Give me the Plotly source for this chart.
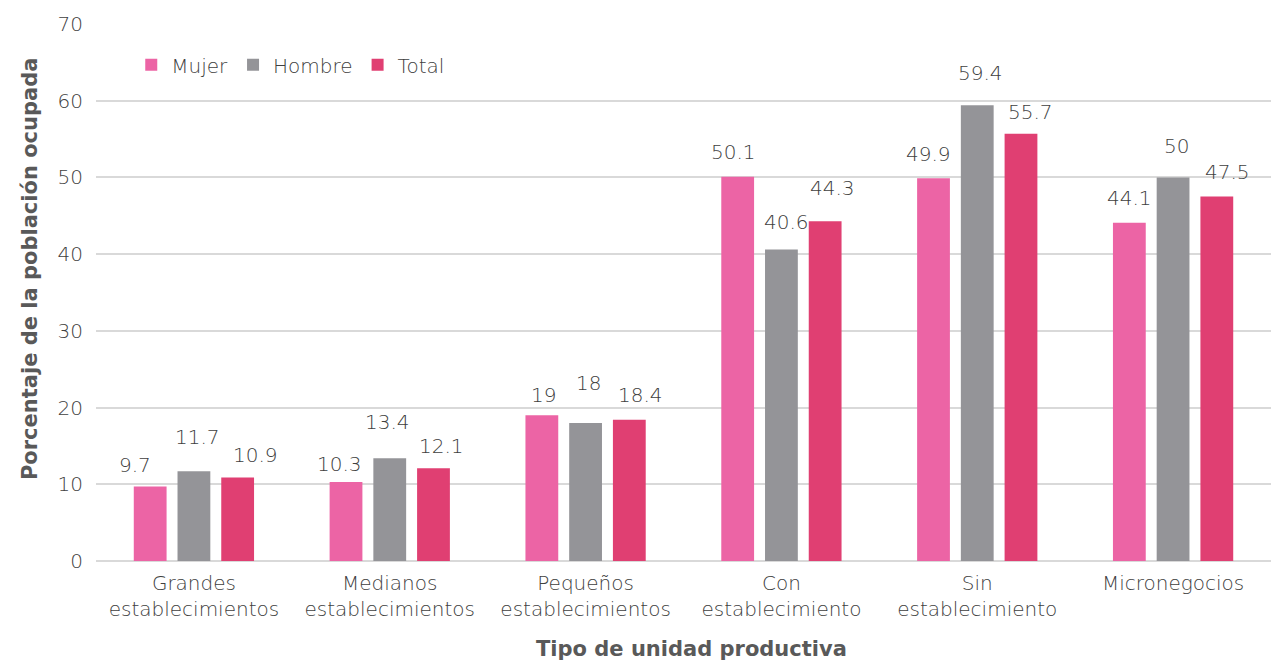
import plotly.graph_objects as go

# Datos: porcentaje de la población ocupada por tipo de unidad productiva
categorias = [
    "Grandes<br>establecimientos",
    "Medianos<br>establecimientos",
    "Pequeños<br>establecimientos",
    "Con<br>establecimiento",
    "Sin<br>establecimiento",
    "Micronegocios",
]
mujer = [9.7, 10.3, 19, 50.1, 49.9, 44.1]
hombre = [11.7, 13.4, 18, 40.6, 59.4, 50]
total = [10.9, 12.1, 18.4, 44.3, 55.7, 47.5]

series = [
    ("Mujer", mujer, "#EC64A5"),
    ("Hombre", hombre, "#949498"),
    ("Total", total, "#E03F72"),
]

# Ajuste manual de cada etiqueta de valor (px: desplazamiento horizontal,
# altura del centro de la etiqueta sobre el extremo de la barra)
desp_x = {
    "Mujer": [-15, -7, 2, -4, -5, 0],
    "Hombre": [4, -2, 3, 5, 3, 3],
    "Total": [18, 8, 11, 7, 10, 11],
}
altura = {
    "Mujer": [22, 18, 20, 25, 24, 25],
    "Hombre": [34, 36, 40, 28, 32, 31],
    "Total": [22, 22, 25, 33, 22, 25],
}

FONT = "DejaVu Sans"
GRIS_TXT = "#404040"
BARGAP = 0.33
texto = dict(family=FONT, size=20, color=GRIS_TXT, weight=200)
titulo = dict(family=FONT, size=21, color="#595959", weight="bold")

fig = go.Figure()
for nombre, valores, color in series:
    fig.add_trace(go.Bar(
        name=nombre,
        x=categorias,
        y=valores,
        marker=dict(color=color, line=dict(width=0)),
    ))

# Etiquetas de valor sobre cada barra
ancho_slot = (1 - BARGAP) / len(series)
anotaciones = []
for k, (nombre, valores, color) in enumerate(series):
    desplazamiento = (k - (len(series) - 1) / 2) * ancho_slot
    for i, v in enumerate(valores):
        anotaciones.append(dict(
            x=i + desplazamiento, y=v, xref="x", yref="y",
            text=f"{v:g}", showarrow=False,
            yanchor="middle", xshift=desp_x[nombre][i], yshift=altura[nombre][i],
            font=texto,
        ))

# Títulos de los ejes
anotaciones.append(dict(
    text="<b>Porcentaje de la población ocupada</b>", textangle=-90,
    xref="paper", yref="paper", x=-0.056, y=0.544,
    xanchor="center", yanchor="middle", showarrow=False, font=titulo,
))
anotaciones.append(dict(
    text="<b>Tipo de unidad productiva</b>",
    xref="paper", yref="paper", x=0.507, y=-0.163,
    xanchor="center", yanchor="middle", showarrow=False, font=titulo,
))

fig.update_layout(
    width=1271, height=662,
    margin=dict(l=96, r=0, t=24, b=101),
    paper_bgcolor="white", plot_bgcolor="white",
    barmode="group", bargap=BARGAP, bargroupgap=0.25,
    font=texto,
    annotations=anotaciones,
    legend=dict(
        orientation="h", x=0.03, y=0.924, xanchor="left", yanchor="middle",
        font=texto, itemwidth=30, bgcolor="rgba(0,0,0,0)",
    ),
    showlegend=True,
)
fig.update_yaxes(
    range=[0, 70], dtick=10, showgrid=True, gridcolor="#D9D9D9", gridwidth=2,
    zeroline=True, zerolinecolor="#D9D9D9", zerolinewidth=2,
    ticks="", ticklabelstandoff=12, automargin=False,
    tickfont=texto,
)
fig.update_xaxes(
    showline=False, ticks="", ticklabelstandoff=8, automargin=False,
    tickfont=texto,
)

fig.write_html("out.html")
